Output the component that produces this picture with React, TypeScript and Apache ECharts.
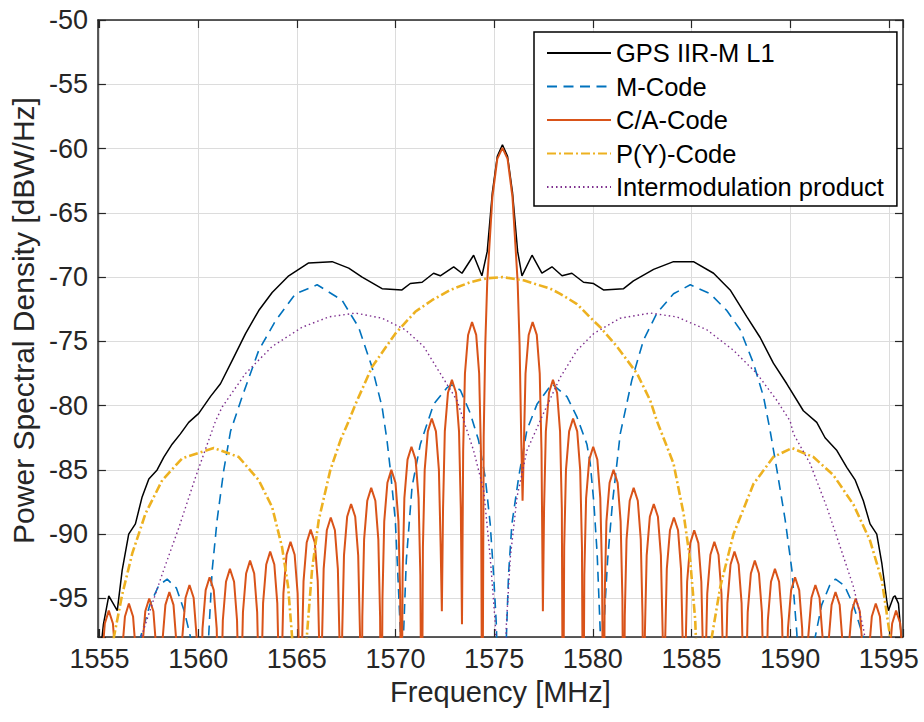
import React, { useEffect, useRef } from "react";
import * as echarts from "echarts";

const FONT = "'Liberation Sans', Arial, Helvetica, sans-serif";

const xMin = 1554.92;
const xMax = 1595.72;
const yMin = -98;
const yMax = -50;

const seriesNames = ["GPS IIR-M L1", "M-Code", "C/A-Code", "P(Y)-Code", "Intermodulation product"];
const seriesColors = ["#000000", "#0072BD", "#D95319", "#EDB120", "#7E2F8E"];

// Composite GPS IIR-M L1 spectrum [MHz, dBW/Hz]
const gpsL1: [number, number][] = [
  [1554.92, -101], [1555.2, -97.0], [1555.47, -94.8], [1555.9, -95.95], [1556.15, -92.8], [1556.48, -90.0],
  [1556.82, -89.2], [1557.16, -87.1], [1557.5, -85.7], [1557.92, -85.0], [1558.26, -84.0], [1558.68, -83.0],
  [1559.1, -82.2], [1559.52, -81.3], [1560.03, -80.6], [1560.62, -79.3], [1561.13, -78.3], [1561.72, -76.5],
  [1562.4, -74.4], [1563.07, -72.6], [1563.75, -71.2], [1564.59, -69.9], [1565.6, -68.9], [1566.79, -68.8],
  [1567.63, -69.3], [1568.31, -70.0], [1569.32, -70.9], [1570.33, -71.0], [1570.75, -70.5], [1571.35, -70.4],
  [1571.93, -69.7], [1572.27, -69.9], [1572.95, -69.2], [1573.37, -69.7], [1573.96, -68.3], [1574.38, -69.9],
  [1574.65, -68.0], [1574.91, -63.4], [1575.16, -60.6], [1575.42, -59.7], [1575.68, -60.6], [1575.93, -63.4],
  [1576.19, -68.0], [1576.41, -69.9], [1576.92, -68.3], [1577.42, -69.7], [1577.93, -69.2], [1578.44, -69.9],
  [1578.94, -69.7], [1579.53, -70.4], [1580.04, -70.5], [1580.54, -71.0], [1581.56, -70.9], [1582.06, -70.3],
  [1583.08, -69.4], [1584.09, -68.8], [1585.1, -68.8], [1586.12, -69.7], [1586.96, -71.0], [1587.81, -73.1],
  [1588.48, -74.7], [1589.15, -76.7], [1589.83, -78.3], [1590.67, -80.4], [1591.35, -81.3], [1591.77, -82.5],
  [1592.37, -83.5], [1592.87, -84.8], [1593.3, -85.8], [1593.71, -87.4], [1594.05, -89.2], [1594.39, -90.0],
  [1594.65, -92.3], [1594.9, -95.2], [1594.98, -95.95], [1595.23, -94.9], [1595.32, -94.8], [1595.49, -95.4],
  [1595.66, -98.5], [1595.72, -100],
];

// M-Code (BOC) spectrum
const mCode: [number, number][] = [
  [1556.9, -110], [1557.08, -98], [1557.55, -95.5], [1558.0, -94.0], [1558.43, -93.5], [1558.9, -94.2],
  [1559.3, -96.0], [1559.61, -98], [1559.8, -106], [1560.1, -110], [1560.45, -101], [1560.54, -97.7],
  [1560.71, -92.8], [1560.96, -88.9], [1561.3, -85.0], [1561.64, -82.0], [1562.23, -79.3], [1563.07, -75.7],
  [1563.92, -73.4], [1564.93, -71.3], [1566.03, -70.6], [1567.29, -71.8], [1568.13, -73.9], [1568.81, -77.0],
  [1569.32, -80.1], [1569.57, -82.7], [1569.74, -85.0], [1569.99, -88.9], [1570.11, -92.8], [1570.25, -97.7],
  [1570.33, -110], [1570.41, -97.7], [1570.55, -92.0], [1570.84, -86.3], [1571.26, -83.0], [1571.93, -79.9],
  [1572.61, -78.6], [1572.85, -78.4], [1573.29, -78.8], [1573.79, -80.6], [1574.21, -82.7], [1574.55, -85.6],
  [1574.8, -89.2], [1574.97, -93.1], [1575.11, -97.0], [1575.35, -110], [1575.62, -98.0], [1575.73, -93.1],
  [1575.9, -89.2], [1576.24, -85.6], [1576.66, -81.9], [1577.17, -79.9], [1577.93, -78.3], [1578.69, -79.3],
  [1579.2, -80.9], [1579.7, -83.0], [1579.87, -84.5], [1580.05, -87.5], [1580.22, -91.5], [1580.38, -97.7],
  [1580.46, -110], [1580.54, -97.7], [1580.75, -92.0], [1581.0, -87.5], [1581.39, -82.2], [1581.98, -78.0],
  [1582.57, -74.9], [1583.25, -72.8], [1584.09, -71.3], [1584.94, -70.6], [1585.95, -71.3], [1586.79, -72.6],
  [1587.47, -74.1], [1588.14, -76.7], [1588.65, -79.3], [1588.98, -81.9], [1589.33, -85.0], [1589.75, -88.9],
  [1590.09, -92.8], [1590.34, -97.7], [1590.7, -110], [1591.1, -104], [1591.27, -98], [1591.6, -95.5],
  [1592.0, -94.0], [1592.3, -93.5], [1592.75, -94.0], [1593.2, -95.5], [1593.71, -98], [1593.9, -110],
];

// C/A-Code spectrum (lobes read one by one)
const caCode: [number, number][] = [
  [1554.96, -110],
  [1555.02, -105.95], [1555.11, -99.95], [1555.27, -96.95], [1555.47, -95.95], [1555.68, -96.95], [1555.83, -99.95], [1555.92, -105.95], [1555.98, -110],
  [1556.04, -105.4], [1556.13, -99.4], [1556.29, -96.4], [1556.49, -95.4], [1556.7, -96.4], [1556.85, -99.4], [1556.94, -105.4], [1557.01, -110],
  [1557.07, -105.0], [1557.16, -99.0], [1557.32, -96.0], [1557.52, -95.0], [1557.73, -96.0], [1557.88, -99.0], [1557.97, -105.0], [1558.03, -110],
  [1558.09, -104.5], [1558.18, -98.5], [1558.34, -95.5], [1558.54, -94.5], [1558.75, -95.5], [1558.9, -98.5], [1558.99, -104.5], [1559.05, -110],
  [1559.11, -103.95], [1559.2, -97.95], [1559.36, -94.95], [1559.56, -93.95], [1559.77, -94.95], [1559.92, -97.95], [1560.01, -103.95], [1560.07, -110],
  [1560.13, -103.35], [1560.22, -97.35], [1560.38, -94.35], [1560.58, -93.35], [1560.79, -94.35], [1560.94, -97.35], [1561.03, -103.35], [1561.1, -110],
  [1561.16, -102.7], [1561.25, -96.7], [1561.41, -93.7], [1561.61, -92.7], [1561.82, -93.7], [1561.97, -96.7], [1562.06, -102.7], [1562.12, -110],
  [1562.18, -102.06], [1562.27, -96.06], [1562.43, -93.06], [1562.63, -92.06], [1562.84, -93.06], [1562.99, -96.06], [1563.08, -102.06], [1563.14, -110],
  [1563.2, -101.36], [1563.29, -95.36], [1563.45, -92.36], [1563.65, -91.36], [1563.86, -92.36], [1564.01, -95.36], [1564.1, -101.36], [1564.17, -110],
  [1564.23, -100.6], [1564.32, -94.6], [1564.48, -91.6], [1564.68, -90.6], [1564.89, -91.6], [1565.04, -94.6], [1565.13, -100.6], [1565.19, -110],
  [1565.25, -99.65], [1565.34, -93.65], [1565.5, -90.65], [1565.7, -89.65], [1565.91, -90.65], [1566.06, -93.65], [1566.15, -99.65], [1566.21, -110],
  [1566.27, -98.7], [1566.36, -92.7], [1566.52, -89.7], [1566.72, -88.7], [1566.93, -89.7], [1567.08, -92.7], [1567.17, -98.7], [1567.24, -110],
  [1567.3, -97.65], [1567.39, -91.65], [1567.55, -88.65], [1567.75, -87.65], [1567.96, -88.65], [1568.11, -91.65], [1568.2, -97.65], [1568.26, -110],
  [1568.32, -96.4], [1568.41, -90.4], [1568.57, -87.4], [1568.77, -86.4], [1568.98, -87.4], [1569.13, -90.4], [1569.22, -96.4], [1569.28, -110],
  [1569.34, -95.0], [1569.43, -89.0], [1569.59, -86.0], [1569.79, -85.0], [1570.0, -86.0], [1570.15, -89.0], [1570.24, -95.0], [1570.3, -110],
  [1570.36, -93.2], [1570.45, -87.2], [1570.61, -84.2], [1570.81, -83.2], [1571.02, -84.2], [1571.17, -87.2], [1571.26, -93.2], [1571.33, -110],
  [1571.39, -91.0], [1571.48, -85.0], [1571.64, -82.0], [1571.84, -81.0], [1572.05, -82.0], [1572.2, -85.0], [1572.29, -91.0], [1572.35, -96.0],
  [1572.41, -88.0], [1572.5, -82.0], [1572.66, -79.0], [1572.86, -78.0], [1573.07, -79.0], [1573.22, -82.0], [1573.31, -88.0], [1573.37, -97.0],
  [1573.43, -83.5], [1573.52, -77.5], [1573.68, -74.5], [1573.88, -73.5], [1574.09, -74.5], [1574.24, -77.5], [1574.33, -83.5], [1574.4, -110],
  [1574.47, -82.4], [1574.55, -75.3], [1574.65, -70.35], [1574.91, -63.8], [1575.16, -60.8], [1575.42, -59.95],
  [1575.68, -60.8], [1575.93, -63.8], [1576.19, -70.35], [1576.29, -75.3], [1576.37, -82.4], [1576.44, -87.4],
  [1576.5, -83.5], [1576.59, -77.5], [1576.75, -74.5], [1576.95, -73.5], [1577.16, -74.5], [1577.31, -77.5], [1577.4, -83.5], [1577.47, -96.0],
  [1577.53, -88.0], [1577.62, -82.0], [1577.78, -79.0], [1577.98, -78.0], [1578.19, -79.0], [1578.34, -82.0], [1578.43, -88.0], [1578.49, -110],
  [1578.55, -91.0], [1578.64, -85.0], [1578.8, -82.0], [1579.0, -81.0], [1579.21, -82.0], [1579.36, -85.0], [1579.45, -91.0], [1579.51, -110],
  [1579.57, -93.2], [1579.66, -87.2], [1579.82, -84.2], [1580.02, -83.2], [1580.23, -84.2], [1580.38, -87.2], [1580.47, -93.2], [1580.54, -110],
  [1580.6, -95.0], [1580.69, -89.0], [1580.85, -86.0], [1581.05, -85.0], [1581.26, -86.0], [1581.41, -89.0], [1581.5, -95.0], [1581.56, -110],
  [1581.62, -96.4], [1581.71, -90.4], [1581.87, -87.4], [1582.07, -86.4], [1582.28, -87.4], [1582.43, -90.4], [1582.52, -96.4], [1582.58, -110],
  [1582.64, -97.65], [1582.73, -91.65], [1582.89, -88.65], [1583.09, -87.65], [1583.3, -88.65], [1583.45, -91.65], [1583.54, -97.65], [1583.6, -110],
  [1583.66, -98.7], [1583.75, -92.7], [1583.91, -89.7], [1584.11, -88.7], [1584.32, -89.7], [1584.47, -92.7], [1584.56, -98.7], [1584.63, -110],
  [1584.69, -99.7], [1584.78, -93.7], [1584.94, -90.7], [1585.14, -89.7], [1585.35, -90.7], [1585.5, -93.7], [1585.59, -99.7], [1585.65, -110],
  [1585.71, -100.6], [1585.8, -94.6], [1585.96, -91.6], [1586.16, -90.6], [1586.37, -91.6], [1586.52, -94.6], [1586.61, -100.6], [1586.67, -110],
  [1586.73, -101.36], [1586.82, -95.36], [1586.98, -92.36], [1587.18, -91.36], [1587.39, -92.36], [1587.54, -95.36], [1587.63, -101.36], [1587.7, -110],
  [1587.76, -102.06], [1587.85, -96.06], [1588.01, -93.06], [1588.21, -92.06], [1588.42, -93.06], [1588.57, -96.06], [1588.66, -102.06], [1588.72, -110],
  [1588.78, -102.7], [1588.87, -96.7], [1589.03, -93.7], [1589.23, -92.7], [1589.44, -93.7], [1589.59, -96.7], [1589.68, -102.7], [1589.74, -110],
  [1589.8, -103.35], [1589.89, -97.35], [1590.05, -94.35], [1590.25, -93.35], [1590.46, -94.35], [1590.61, -97.35], [1590.7, -103.35], [1590.77, -110],
  [1590.83, -103.95], [1590.92, -97.95], [1591.08, -94.95], [1591.28, -93.95], [1591.49, -94.95], [1591.64, -97.95], [1591.73, -103.95], [1591.79, -110],
  [1591.85, -104.5], [1591.94, -98.5], [1592.1, -95.5], [1592.3, -94.5], [1592.51, -95.5], [1592.66, -98.5], [1592.75, -104.5], [1592.81, -110],
  [1592.87, -105.0], [1592.96, -99.0], [1593.12, -96.0], [1593.32, -95.0], [1593.53, -96.0], [1593.68, -99.0], [1593.77, -105.0], [1593.83, -110],
  [1593.89, -105.4], [1593.98, -99.4], [1594.14, -96.4], [1594.34, -95.4], [1594.55, -96.4], [1594.7, -99.4], [1594.79, -105.4], [1594.86, -110],
  [1594.92, -105.95], [1595.01, -99.95], [1595.17, -96.95], [1595.37, -95.95], [1595.58, -96.95], [1595.73, -99.95], [1595.82, -105.95], [1595.88, -110],
];

// P(Y)-Code spectrum
const pyCode: [number, number][] = [
  [1554.92, -110], [1555.6, -101], [1555.73, -98], [1556.15, -94.7], [1556.66, -91.5], [1557.33, -88.4],
  [1558.18, -85.8], [1559.19, -84.1], [1560.79, -83.3], [1562.06, -84.0], [1563.07, -85.8], [1563.75, -87.9],
  [1564.25, -91.0], [1564.56, -94.1], [1564.76, -98], [1564.9, -102], [1565.19, -110], [1565.4, -101],
  [1565.52, -97.7], [1565.77, -92.8], [1566.11, -88.9], [1566.7, -85.0], [1567.21, -82.7], [1567.63, -81.2],
  [1567.97, -79.9], [1568.81, -77.0], [1569.99, -74.4], [1571.0, -72.7], [1571.85, -71.8], [1572.78, -71.0],
  [1573.79, -70.4], [1574.6, -70.1], [1575.42, -70.0], [1576.49, -70.25], [1577.84, -70.9], [1578.35, -71.3],
  [1579.2, -72.1], [1580.04, -73.4], [1580.38, -73.9], [1581.22, -75.4], [1582.24, -77.5], [1582.91, -79.6],
  [1583.25, -81.2], [1583.58, -82.5], [1584.09, -84.5], [1584.6, -88.4], [1584.94, -92.1], [1585.19, -96.7],
  [1585.3, -101], [1585.65, -110], [1585.9, -102], [1586.03, -98], [1586.46, -94.1], [1587.13, -90.0],
  [1588.14, -86.1], [1589.15, -84.0], [1590.09, -83.3], [1591.18, -84.0], [1592.19, -85.4], [1593.21, -87.7],
  [1594.05, -90.5], [1594.65, -93.6], [1595.07, -98], [1595.2, -102], [1595.72, -110],
];

// Intermodulation product spectrum
const imProduct: [number, number][] = [
  [1556.9, -100], [1557.16, -97.8], [1557.5, -96.2], [1558.18, -93.1], [1559.02, -89.5], [1559.86, -85.6],
  [1560.88, -81.2], [1561.22, -80.1], [1562.4, -77.5], [1563.75, -75.4], [1565.27, -73.9], [1566.62, -73.1],
  [1567.97, -72.8], [1569.32, -73.2], [1570.5, -74.1], [1571.43, -75.4], [1572.27, -77.5], [1573.12, -79.6],
  [1573.96, -83.5], [1574.47, -86.6], [1574.8, -91.8], [1575.06, -97.0], [1575.35, -110], [1575.62, -97.0],
  [1575.82, -91.8], [1576.16, -87.1], [1576.66, -83.5], [1577.5, -80.6], [1578.35, -77.8], [1579.2, -75.7],
  [1580.04, -74.4], [1581.39, -73.2], [1582.91, -72.8], [1584.26, -73.1], [1585.78, -74.1], [1587.13, -75.7],
  [1588.31, -77.5], [1589.33, -79.6], [1590.0, -81.2], [1590.17, -82.2], [1591.01, -84.5], [1591.86, -87.9],
  [1592.54, -91.0], [1593.21, -94.1], [1593.71, -97.3], [1594.0, -100],
];

const seriesData = [gpsL1, mCode, caCode, pyCode, imProduct];
const lineWidths = [1.5, 1.6, 2, 2.6, 1.4];
const lineTypes: any[] = ["solid", [10, 6.5], "solid", [9, 3, 2, 3], [1.5, 3]];

const tickFmt = (v: number) => (Math.abs(v / 5 - Math.round(v / 5)) < 1e-6 ? String(Math.round(v)) : "");

export default function App() {
  const ref = useRef<HTMLDivElement>(null);
  useEffect(() => {
    if (!ref.current) return;
    const chart = echarts.init(ref.current, null, { renderer: "svg" });
    const axisColor = "#262626";
    const baseX = {
      type: "value",
      min: xMin,
      max: xMax,
      splitNumber: 8,
      minInterval: 5,
      maxInterval: 5,
      axisLine: { show: true, onZero: false, lineStyle: { color: axisColor, width: 1.5 } },
      axisTick: { show: true, inside: true, length: 8, lineStyle: { color: axisColor, width: 1.2 } },
    };
    const baseY = {
      type: "value",
      min: yMin,
      max: yMax,
      splitNumber: 10,
      minInterval: 5,
      maxInterval: 5,
      axisLine: { show: true, onZero: false, lineStyle: { color: axisColor, width: 1.5 } },
      axisTick: { show: true, inside: true, length: 8, lineStyle: { color: axisColor, width: 1.2 } },
    };
    chart.setOption({
      animation: false,
      backgroundColor: "#ffffff",
      textStyle: { fontFamily: FONT },
      grid: { left: 97, top: 20, width: 806, height: 617, containLabel: false },
      legend: {
        show: true,
        data: seriesNames,
        orient: "vertical",
        left: 534,
        top: 32,
        padding: [8, 13, 6, 12],
        itemWidth: 64,
        itemHeight: 12,
        itemGap: 7.5,
        backgroundColor: "#ffffff",
        borderColor: "#000000",
        borderWidth: 1.5,
        borderRadius: 0,
        selectedMode: false,
        itemStyle: { opacity: 0, borderWidth: 0 },
        textStyle: { fontSize: 25.5, color: "#000000", fontFamily: FONT, lineHeight: 26 },
      },
      xAxis: [
        {
          ...baseX,
          position: "bottom",
          name: "Frequency [MHz]",
          nameLocation: "middle",
          nameGap: 40,
          nameTextStyle: { fontSize: 29, color: axisColor, fontFamily: FONT },
          axisLabel: { show: true, formatter: tickFmt, color: axisColor, fontSize: 27, margin: 8, fontFamily: FONT },
          splitLine: { show: true, lineStyle: { color: "#dcdcdc", width: 1 } },
        },
        {
          ...baseX,
          position: "top",
          axisLabel: { show: false },
          splitLine: { show: false },
        },
      ],
      yAxis: [
        {
          ...baseY,
          position: "left",
          name: "Power Spectral Density [dBW/Hz]",
          nameLocation: "middle",
          nameGap: 58,
          nameTextStyle: { fontSize: 30, color: axisColor, fontFamily: FONT, padding: [0, 0, 0, 16] },
          axisLabel: { show: true, formatter: tickFmt, color: axisColor, fontSize: 27, margin: 10, fontFamily: FONT },
          splitLine: { show: true, lineStyle: { color: "#dcdcdc", width: 1 } },
        },
        {
          ...baseY,
          position: "right",
          axisLabel: { show: false },
          splitLine: { show: false },
        },
      ],
      series: seriesNames.map((name, i) => ({
        name,
        type: "line",
        xAxisIndex: 0,
        yAxisIndex: 0,
        data: seriesData[i],
        symbol: "none",
        showSymbol: false,
        clip: true,
        silent: true,
        lineStyle: { color: seriesColors[i], width: lineWidths[i], type: lineTypes[i] },
        itemStyle: { color: seriesColors[i] },
        emphasis: { disabled: true },
        z: 2 + i,
      })),
    });
    return () => chart.dispose();
  }, []);
  return (
    <div
      ref={ref}
      style={{ position: "absolute", left: 0, top: 0, width: 924, height: 722, background: "#ffffff" }}
    />
  );
}
